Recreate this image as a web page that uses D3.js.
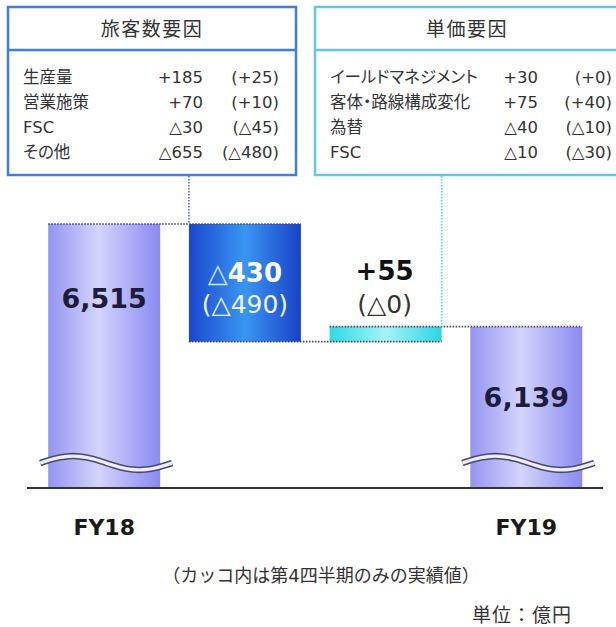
<!DOCTYPE html>
<html>
<head>
<meta charset="utf-8">
<script src="https://cdn.jsdelivr.net/npm/d3@7"></script>
<style>
  body { margin: 0; background: #fff; }
  svg { display: block; }
  text { font-family: "DejaVu Sans", Verdana, "Noto Sans CJK JP", sans-serif; font-feature-settings: "palt"; }
  text.full { font-feature-settings: normal; }
</style>
</head>
<body>
<div id="chart"></div>
<script>
// bars of the waterfall
const categories = ["FY18", "旅客数要因", "単価要因", "FY19"];
const values = [6515, -430, 55, 6139];
const quarterValues = [null, -490, -0, null]; // -0 : shown as △0
const axisLabels = ["FY18", "", "", "FY19"];

// factor boxes
const passengerTitle = "旅客数要因";
const passengerLabels = ["生産量", "営業施策", "FSC", "その他"];
const passengerValues = [185, 70, -30, -655];
const passengerQuarter = [25, 10, -45, -480];

const priceTitle = "単価要因";
const priceLabels = ["イールドマネジメント", "客体・路線構成変化", "為替", "FSC"];
const priceValues = [30, 75, -40, -10];
const priceQuarter = [0, 40, -10, -30];

const noteText = "（カッコ内は第4四半期のみの実績値）";
const unitText = "単位：億円";

class Waterfall {
  render() {
    const width = 616, height = 627;
    const svg = d3.select("#chart").append("svg")
      .attr("width", width).attr("height", height);
    const defs = svg.append("defs");

    const grad = (id, stops) => {
      const g = defs.append("linearGradient").attr("id", id)
        .attr("x1", "0%").attr("x2", "100%").attr("y1", "0%").attr("y2", "0%");
      stops.forEach(s => g.append("stop").attr("offset", s[0]).attr("stop-color", s[1]));
    };
    grad("gTotal", [["0%", "#9494f2"], ["45%", "#d4d4fc"], ["100%", "#8a8af0"]]);
    grad("gBlue", [["0%", "#1a46cc"], ["50%", "#3a96f2"], ["100%", "#1842c8"]]);
    grad("gCyan", [["0%", "#2cdbe6"], ["50%", "#a6f3f7"], ["100%", "#2cd6e4"]]);
    const fills = ["url(#gTotal)", "url(#gBlue)", "url(#gCyan)", "url(#gTotal)"];

    const axisY = 488;
    const xScale = d3.scaleBand().domain(categories)
      .range([27.5, 603]).paddingInner(0.204).paddingOuter(0.147);
    // broken axis: the bottom of the bars is not zero
    const yScale = d3.scaleLinear().domain([5550, 6515]).range([axisY, 224]);

    // waterfall steps
    let run = 0;
    const steps = categories.map((c, i) => {
      let y0, y1;
      if (i === 0 || i === categories.length - 1) {
        y0 = yScale.domain()[0]; y1 = values[i]; run = values[i];
      } else {
        y0 = run; y1 = run + values[i]; run = y1;
      }
      return { c, i, v: values[i], q: quarterValues[i], lo: Math.min(y0, y1), hi: Math.max(y0, y1), end: y1 };
    });

    const bw = xScale.bandwidth();
    svg.selectAll("rect.bar").data(steps).enter().append("rect")
      .attr("class", "bar")
      .attr("x", d => xScale(d.c))
      .attr("y", d => yScale(d.hi))
      .attr("width", bw)
      .attr("height", d => yScale(d.lo) - yScale(d.hi))
      .attr("fill", (d, i) => fills[i]);

    // dotted connectors between bars
    const dots = svg.append("g").attr("fill", "none")
      .attr("stroke", "#4a4a66").attr("stroke-width", 1.6).attr("stroke-dasharray", "1.6,1.4");
    for (let i = 0; i < steps.length - 1; i++) {
      const lvl = steps[i].end;
      dots.append("line")
        .attr("x1", xScale(steps[i].c)).attr("x2", xScale(steps[i + 1].c) + bw)
        .attr("y1", yScale(lvl)).attr("y2", yScale(lvl));
    }

    // break marks on the total bars
    const wave = d3.line().curve(d3.curveBasis);
    [0, 3].forEach(i => {
      const x0 = xScale(categories[i]) - 8, x1 = xScale(categories[i]) + bw + 12;
      const cy = axisY - 25;
      const pts = d3.range(0, 1.0001, 0.05).map(t => [x0 + t * (x1 - x0), cy - 7 * Math.sin(t * 2 * Math.PI)]);
      svg.append("path").attr("d", wave(pts)).attr("fill", "none")
        .attr("stroke", "#4a4a6a").attr("stroke-width", 6.5);
      svg.append("path").attr("d", wave(pts)).attr("fill", "none")
        .attr("stroke", "#ececfd").attr("stroke-width", 3.4);
    });

    // baseline
    svg.append("line").attr("x1", 27).attr("x2", 603)
      .attr("y1", axisY).attr("y2", axisY)
      .attr("stroke", "#333").attr("stroke-width", 2.2);

    // value labels
    const fmt = d3.format(",");
    const delta = v => (v < 0 || Object.is(v, -0) ? "△" + Math.abs(v) : "+" + v);
    [0, 3].forEach(i => {
      const d = steps[i];
      svg.append("text")
        .attr("x", xScale(d.c) + bw / 2)
        .attr("y", yScale(d.hi) + (i === 0 ? 84 : 80))
        .attr("text-anchor", "middle")
        .attr("font-size", 27).attr("font-weight", "bold")
        .attr("fill", "#1c1c3c")
        .text(fmt(d.v));
    });
    // blue (inside) and cyan (above) labels
    const blue = steps[1], cyan = steps[2];
    const bt = svg.append("text").attr("x", xScale(blue.c) + bw / 2).attr("y", 282)
      .attr("text-anchor", "middle").attr("font-size", 26).attr("fill", "#fff");
    bt.append("tspan").attr("fill", "#cfe0ff").text(delta(blue.v).slice(0, 1));
    bt.append("tspan").attr("font-weight", "bold").text(delta(blue.v).slice(1));
    svg.append("text").attr("x", xScale(blue.c) + bw / 2).attr("y", 313)
      .attr("text-anchor", "middle").attr("font-size", 25).attr("fill", "#eef4ff")
      .text("(" + delta(blue.q) + ")");
    svg.append("text").attr("x", xScale(cyan.c) + bw / 2 - 1).attr("y", 280)
      .attr("text-anchor", "middle").attr("font-size", 26).attr("font-weight", "bold")
      .attr("fill", "#111").text(delta(cyan.v));
    svg.append("text").attr("x", xScale(cyan.c) + bw / 2 - 1).attr("y", 313)
      .attr("text-anchor", "middle").attr("font-size", 25).attr("fill", "#333")
      .text("(" + delta(cyan.q) + ")");

    // category labels
    svg.selectAll("text.cat").data(axisLabels).enter().append("text")
      .attr("class", "cat")
      .attr("x", (d, i) => xScale(categories[i]) + bw / 2)
      .attr("y", 535)
      .attr("text-anchor", "middle").attr("font-size", 22).attr("font-weight", "bold")
      .attr("fill", "#1a1a1a")
      .text(d => d);

    svg.append("text").attr("class", "full").attr("x", 321).attr("y", 582).attr("text-anchor", "middle")
      .attr("font-size", 18).attr("fill", "#333").text(noteText);
    svg.append("text").attr("class", "full").attr("x", 572).attr("y", 622).attr("text-anchor", "end")
      .attr("font-size", 19).attr("letter-spacing", 1).attr("fill", "#333").text(unitText);

    // factor boxes
    const box = (x, w, color, title, labels, vals, qs, colV, colQ) => {
      const g = svg.append("g");
      g.append("rect").attr("x", x).attr("y", 7).attr("width", w).attr("height", 168)
        .attr("fill", "#fff").attr("stroke", color).attr("stroke-width", 2.5);
      g.append("line").attr("x1", x).attr("x2", x + w).attr("y1", 50).attr("y2", 50)
        .attr("stroke", color).attr("stroke-width", 2.5);
      g.append("text").attr("class", "full").attr("x", x + w / 2).attr("y", 36).attr("text-anchor", "middle")
        .attr("font-size", 19).attr("letter-spacing", 1.5).attr("fill", "#333").text(title);
      labels.forEach((l, i) => {
        const y = 83 + i * 25;
        g.append("text").attr("x", x + 15).attr("y", y).attr("font-size", 16.5)
          .attr("fill", "#333").text(l);
        g.append("text").attr("x", colV).attr("y", y).attr("text-anchor", "end")
          .attr("font-size", 16.5).attr("fill", "#333").text(delta(vals[i]));
        g.append("text").attr("x", colQ).attr("y", y).attr("text-anchor", "end")
          .attr("font-size", 16.5).attr("fill", "#333").text("(" + delta(qs[i]) + ")");
      });
    };
    box(8, 288, "#3f7ede", passengerTitle, passengerLabels, passengerValues, passengerQuarter, 203, 279);
    box(315, 304, "#62c6ea", priceTitle, priceLabels, priceValues, priceQuarter, 538, 612);

    // dotted leaders from boxes to bars
    svg.append("line").attr("x1", xScale(blue.c)).attr("x2", xScale(blue.c))
      .attr("y1", 176).attr("y2", yScale(blue.hi))
      .attr("stroke", "#4a6fc8").attr("stroke-width", 1.6).attr("stroke-dasharray", "1.6,1.4");
    svg.append("line").attr("x1", xScale(cyan.c) + bw).attr("x2", xScale(cyan.c) + bw)
      .attr("y1", 176).attr("y2", yScale(cyan.hi))
      .attr("stroke", "#4fd0ea").attr("stroke-width", 1.6).attr("stroke-dasharray", "1.6,1.4");
  }
}

new Waterfall().render();
</script>
</body>
</html>
